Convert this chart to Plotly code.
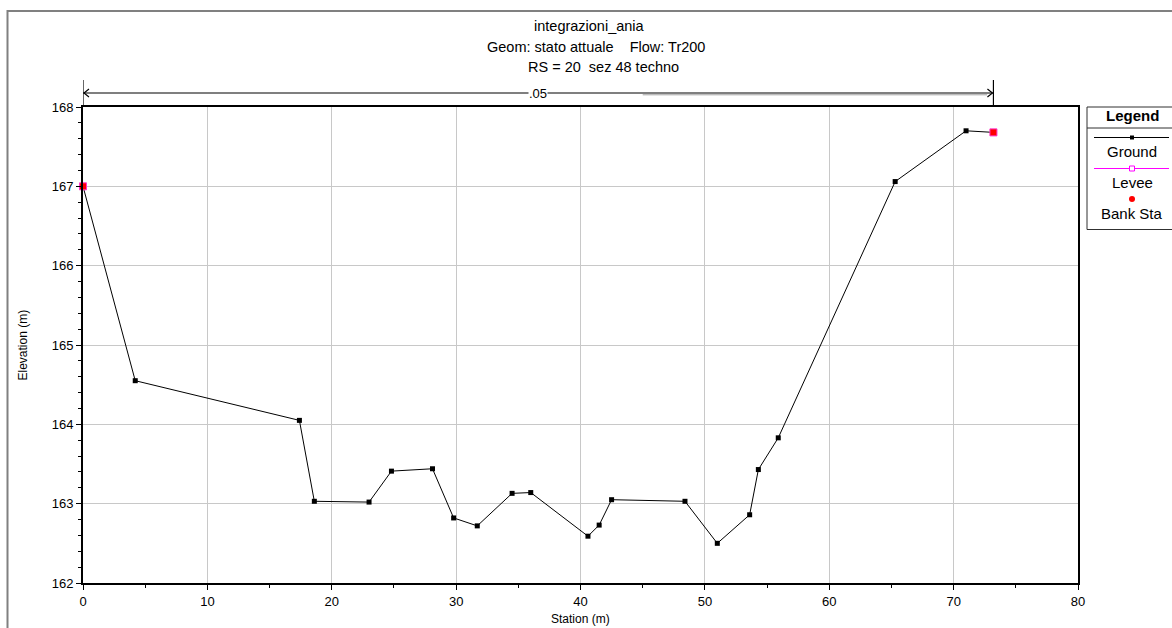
import plotly.graph_objects as go

# ---------------- data ----------------
station = [0.0, 4.2, 17.4, 18.6, 23.0, 24.8, 28.1, 29.8, 31.7, 34.5, 36.0, 40.6,
           41.5, 42.5, 48.4, 51.0, 53.6, 54.3, 55.9, 65.3, 71.0, 73.2]
elevation = [167.00, 164.55, 164.05, 163.03, 163.02, 163.41, 163.44, 162.82, 162.72,
             163.13, 163.14, 162.59, 162.73, 163.05, 163.03, 162.50, 162.86, 163.43,
             163.83, 167.06, 167.70, 167.68]
bank_station = [0.0, 73.2]
bank_elev = [167.00, 167.68]
manning_label = ".05"
x_ticks = [0, 10, 20, 30, 40, 50, 60, 70, 80]
y_ticks = [162, 163, 164, 165, 166, 167, 168]
title_lines = ["integrazioni_ania",
               "Geom: stato attuale\u00a0\u00a0\u00a0\u00a0Flow: Tr200",
               "RS = 20\u00a0\u00a0sez 48 techno"]
legend_items = ["Ground", "Levee", "Bank Sta"]

# ---------------- layout geometry ----------------
W, H = 1172, 628
L, R, T, B = 83, 94, 107, 45
PW, PH = W - L - R, H - T - B


def px(x):
    return (x - L) / PW


def py(y):
    return (H - B - y) / PH


FONT = "Arial, Liberation Sans, sans-serif"

fig = go.Figure()

fig.add_trace(go.Scatter(
    x=station, y=elevation, mode="lines+markers", name="Ground",
    line=dict(color="black", width=1),
    marker=dict(symbol="square", size=5, color="black"),
    cliponaxis=False, showlegend=False, hoverinfo="x+y"))

fig.add_trace(go.Scatter(
    x=bank_station, y=bank_elev, mode="markers", name="Bank Sta",
    marker=dict(symbol="square", size=7, color="#ff0000",
                line=dict(color="#ff33cc", width=1)),
    cliponaxis=False, showlegend=False))

shapes = []
annotations = []

# outer grey frame
shapes.append(dict(type="rect", xref="paper", yref="paper",
                   x0=px(7.5), x1=px(1200), y0=py(11), y1=py(700),
                   line=dict(color="#808080", width=2), layer="below"))

# manning's n bar
yb = py(93)
shapes.append(dict(type="line", xref="x", yref="paper",
                   x0=bank_station[0], x1=bank_station[1], y0=yb, y1=yb,
                   line=dict(color="black", width=1.2)))
shapes.append(dict(type="line", xref="x", yref="paper",
                   x0=bank_station[0], x1=bank_station[0], y0=py(80), y1=1.0,
                   line=dict(color="black", width=1.2)))
shapes.append(dict(type="line", xref="x", yref="paper",
                   x0=bank_station[1], x1=bank_station[1], y0=py(80), y1=1.0,
                   line=dict(color="black", width=1.2)))
# grey shadow on right half
shapes.append(dict(type="line", xref="x", yref="paper",
                   x0=45.0, x1=bank_station[1] - 0.5, y0=py(94.8), y1=py(94.8),
                   line=dict(color="#a0a0a0", width=1)))
# chevrons
for xa, d in ((bank_station[0], 1), (bank_station[1], -1)):
    shapes.append(dict(type="path", xref="x", yref="paper",
                       xsizemode="pixel", ysizemode="pixel",
                       xanchor=xa, yanchor=yb,
                       path=f"M {6*d},4 L {1*d},0 L {6*d},-4",
                       line=dict(color="black", width=1.2)))
annotations.append(dict(x=(bank_station[0] + bank_station[1]) / 2, y=yb,
                        xref="x", yref="paper", text=manning_label,
                        showarrow=False, bgcolor="white",
                        font=dict(family=FONT, size=13, color="black"),
                        borderpad=0, xanchor="center", yanchor="middle"))

# title
for txt, cx, cy in zip(title_lines, [589, 596, 603], [26, 46.5, 67]):
    annotations.append(dict(x=px(cx), y=py(cy), xref="paper", yref="paper",
                            text=txt, showarrow=False, xanchor="center",
                            yanchor="middle",
                            font=dict(family=FONT, size=14.5, color="black")))

# axis titles
annotations.append(dict(x=0.5, y=py(619), xref="paper", yref="paper",
                        text="Station (m)", showarrow=False,
                        xanchor="center", yanchor="middle",
                        font=dict(family=FONT, size=12, color="black")))
annotations.append(dict(x=px(22.5), y=0.5, xref="paper", yref="paper",
                        text="Elevation (m)", showarrow=False, textangle=-90,
                        xanchor="center", yanchor="middle",
                        font=dict(family=FONT, size=12, color="black")))

# legend box
lx0, lx1, ly0, ly1 = 1087, 1200, 107, 229.5
shapes.append(dict(type="rect", xref="paper", yref="paper",
                   x0=px(lx0), x1=px(lx1), y0=py(ly0), y1=py(ly1),
                   line=dict(color="#303030", width=1), fillcolor="white"))
shapes.append(dict(type="line", xref="paper", yref="paper",
                   x0=px(lx0), x1=px(lx1), y0=py(128), y1=py(128),
                   line=dict(color="#303030", width=1)))
lcx = 1132
annotations.append(dict(x=px(lcx), y=py(115.5), xref="paper", yref="paper",
                        text="<b>Legend</b>", showarrow=False,
                        xanchor="center", yanchor="middle",
                        font=dict(family=FONT, size=15, color="black")))
for name, ty in zip(legend_items, [151, 182, 213]):
    annotations.append(dict(x=px(lcx), y=py(ty), xref="paper", yref="paper",
                            text=name, showarrow=False,
                            xanchor="center", yanchor="middle",
                            font=dict(family=FONT, size=15, color="black")))
# Ground symbol
shapes.append(dict(type="line", xref="paper", yref="paper",
                   x0=px(1094), x1=px(1169), y0=py(137.5), y1=py(137.5),
                   line=dict(color="black", width=1)))
shapes.append(dict(type="rect", xref="paper", yref="paper",
                   x0=px(lcx - 2), x1=px(lcx + 2), y0=py(135.5), y1=py(139.5),
                   line=dict(color="black", width=0), fillcolor="black"))
# Levee symbol
shapes.append(dict(type="line", xref="paper", yref="paper",
                   x0=px(1094), x1=px(1169), y0=py(168.5), y1=py(168.5),
                   line=dict(color="#ff00ff", width=1)))
shapes.append(dict(type="rect", xref="paper", yref="paper",
                   x0=px(lcx - 2.5), x1=px(lcx + 2.5), y0=py(166), y1=py(171),
                   line=dict(color="#ff00ff", width=1), fillcolor="white"))
# Bank symbol
shapes.append(dict(type="circle", xref="paper", yref="paper",
                   x0=px(lcx - 3), x1=px(lcx + 3), y0=py(196), y1=py(202),
                   line=dict(color="#ff0000", width=0), fillcolor="#ff0000"))

axis_common = dict(showline=True, linecolor="black", linewidth=2, mirror=True,
                   showgrid=True, gridcolor="#c8c8c8", gridwidth=1,
                   ticks="outside", tickcolor="black", ticklen=5, tickwidth=1,
                   tickfont=dict(family=FONT, size=13, color="black"),
                   zeroline=False)

fig.update_layout(
    width=W, height=H,
    margin=dict(l=L, r=R, t=T, b=B, pad=0),
    paper_bgcolor="white", plot_bgcolor="white",
    showlegend=False,
    shapes=shapes, annotations=annotations,
    xaxis=dict(range=[0, 80], tickvals=x_ticks, ticktext=[str(v) for v in x_ticks],
               minor=dict(dtick=5, ticks="outside", ticklen=3, tickcolor="black",
                          showgrid=False),
               **axis_common),
    yaxis=dict(range=[162, 168], tickvals=y_ticks, ticktext=[str(v) for v in y_ticks],
               minor=dict(dtick=0.2, ticks="outside", ticklen=3, tickcolor="black",
                          showgrid=False),
               **axis_common),
)

fig.write_html("out.html")
